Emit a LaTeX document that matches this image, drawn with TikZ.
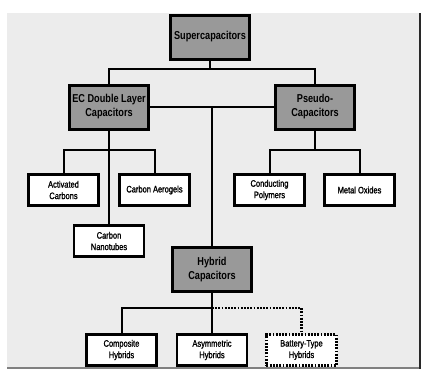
\documentclass[tikz,border=0pt]{standalone}
\usepackage{fontspec}
\setmainfont{Liberation Sans}[FakeStretch=0.8]
\newfontfamily\leaffont{Liberation Sans}[FakeStretch=0.8, FakeBold=1.3]
\usepackage{tikz}
\usetikzlibrary{positioning}
\definecolor{panelgray}{RGB}{236, 236, 236}
\definecolor{boxgray}{RGB}{153, 153, 153}
\definecolor{edgegray}{RGB}{40, 40, 40}

\tikzset{
    mainbox/.style={draw=black, line width=3bp, fill=boxgray, minimum width=79bp, minimum height=44bp,
        inner sep=0.5bp, align=center, font=\fontsize{11.5}{14}\selectfont\bfseries},
    leafbox/.style={draw=black, line width=2.6bp, fill=white, minimum width=70bp, minimum height=31bp,
        inner sep=0.5bp, align=center, font=\leaffont\fontsize{9.4}{11.5}\selectfont},
    dotbox/.style={leafbox, dash pattern=on 1.8bp off 1.4bp},
    link/.style={line width=2bp, draw=black},
    dotlink/.style={line width=2.6bp, draw=black, dash pattern=on 1.8bp off 1.4bp}
}

\begin{document}
\begin{tikzpicture}[x=1bp, y=-1bp]
        % Background panel
        \useasboundingbox (0,0) rectangle (422,369);
        \fill[white] (0,0) rectangle (422,369);
        \fill[panelgray] (7,13) rectangle (420,369);
        \draw[line width=2bp, edgegray] (419.5,13) -- (419.5,369);
        \draw[line width=1.5bp, gray] (7,368) -- (419,368);

        % Top level
        \node[mainbox] (sup) at (210,37) {Supercapacitors};
        \node[mainbox] (ecdl) at (109,107) {EC Double Layer\\Capacitors};
        \node[mainbox] (pseudo) at (315,107) {Pseudo-\\Capacitors};
        \node[mainbox] (hybrid) at (212,269.5) {Hybrid\\Capacitors};

        % EC double layer branch
        \node[leafbox] (actc) at (63.5,190) {Activated\\Carbons};
        \node[leafbox] (aero) at (154.5,190) {Carbon Aerogels};
        \node[leafbox] (nano) at (109,241) {Carbon\\Nanotubes};

        % Pseudo branch
        \node[leafbox] (cpoly) at (269.5,190) {Conducting\\Polymers};
        \node[leafbox] (moxide) at (359.5,190) {Metal Oxides};

        % Hybrid branch
        \node[leafbox] (comp) at (121.5,350) {Composite\\Hybrids};
        \node[leafbox] (asym) at (212,350) {Asymmetric\\Hybrids};
        \node[dotbox] (batt) at (301.5,350) {Battery-Type\\Hybrids};

        % Junctions
        \coordinate (jsup) at (210,69);
        \coordinate (jec) at (109,150);
        \coordinate (jps) at (315,150);
        \coordinate (jhy) at (212,308);

        % Connectors
        \draw[link] (sup.south) -- (jsup);
        \draw[link] (ecdl.north) |- (jsup) -| (pseudo.north);
        \draw[link] (ecdl.east) -- (pseudo.west);
        \draw[link] (hybrid.north |- ecdl.east) -- (hybrid.north);
        \draw[link] (ecdl.south) -- (nano.north);
        \draw[link] (actc.north) |- (jec) -| (aero.north);
        \draw[link] (pseudo.south) -- (jps);
        \draw[link] (cpoly.north) |- (jps) -| (moxide.north);
        \draw[link] (hybrid.south) -- (asym.north);
        \draw[link] (comp.north) |- (jhy);
        \draw[dotlink] (jhy) -| (batt.north);
    \end{tikzpicture}
\end{document}
